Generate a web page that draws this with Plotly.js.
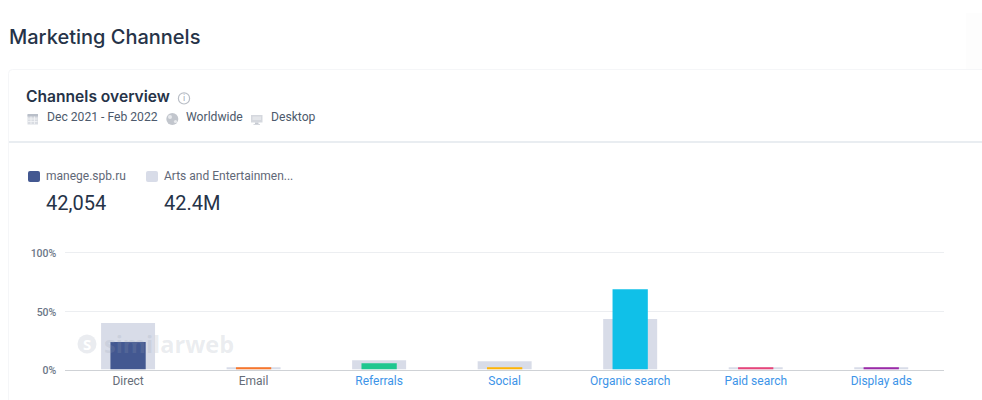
<!DOCTYPE html>
<html>
<head>
<meta charset="utf-8">
<script src="https://cdn.plot.ly/plotly-3.0.1.min.js"></script>
<style>html,body{margin:0;padding:0;background:#fff;overflow:hidden}#chart{width:982px;height:400px}</style>
</head>
<body>
<div id="chart"></div>
<script>
// Traffic share by marketing channel, site against its industry
const channels = ["Direct", "Email", "Referrals", "Social", "Organic search", "Paid search", "Display ads"];
const siteShare = [23.4, 2, 5.4, 2, 68.6, 2, 2];
const industryShare = [39.7, 2, 8, 7.1, 43.1, 2, 2];
const barColors = ["#435891", "#f9762a", "#1fc78f", "#ffb405", "#10c0e8", "#e8457a", "#9c2aa8"];
const labelColors = ["#666d78", "#666d78", "#3d94e8", "#3d94e8", "#3d94e8", "#3d94e8", "#3d94e8"];
const yTicks = [0, 50, 100];
const yTickLabels = ["0%", "50%", "100%"];

const W = 982, H = 400;
const px = x => x / W;
const py = y => 1 - y / H;

// Rectangle given in page pixels
function box(x0, y0, x1, y1, fill, line) {
  return {type: "rect", xref: "paper", yref: "paper", layer: "below",
    x0: px(x0), x1: px(x1), y0: py(y0), y1: py(y1),
    fillcolor: fill, line: line ? {color: line, width: 1} : {width: 0}};
}
// Rectangle with rounded corners, given in page pixels
function roundBox(x0, y0, x1, y1, r, fill, line) {
  const P = (x, y) => `${px(x)},${py(y)}`;
  const path = `M${P(x0 + r, y0)} L${P(x1 - r, y0)} Q${P(x1, y0)} ${P(x1, y0 + r)} L${P(x1, y1 - r)} ` +
    `Q${P(x1, y1)} ${P(x1 - r, y1)} L${P(x0 + r, y1)} Q${P(x0, y1)} ${P(x0, y1 - r)} L${P(x0, y0 + r)} Q${P(x0, y0)} ${P(x0 + r, y0)} Z`;
  return {type: "path", xref: "paper", yref: "paper", layer: "below", path: path,
    fillcolor: fill, line: line ? {color: line, width: 1} : {width: 0}};
}
function hline(x0, x1, y, color, width) {
  return {type: "line", xref: "paper", yref: "paper", layer: "below",
    x0: px(x0), x1: px(x1), y0: py(y), y1: py(y), line: {color: color, width: width}};
}
function vline(x, y0, y1, color, width) {
  return {type: "line", xref: "paper", yref: "paper", layer: "below",
    x0: px(x), x1: px(x), y0: py(y0), y1: py(y1), line: {color: color, width: width}};
}
// Circle given by centre and radius in page pixels
function disc(cx, cy, r, fill, line, layer) {
  return {type: "circle", xref: "paper", yref: "paper", layer: layer || "below",
    x0: px(cx - r), x1: px(cx + r), y0: py(cy - r), y1: py(cy + r),
    fillcolor: fill, line: line ? {color: line, width: 1.2} : {width: 0}};
}
function text(x, y, str, size, color, family, anchor, weight) {
  return {xref: "paper", yref: "paper", x: px(x), y: py(y), xanchor: anchor || "left", yanchor: "middle",
    text: str, showarrow: false, borderpad: 0,
    font: {size: size, color: color, family: family, weight: weight || 400}};
}

const HEAD = "'Inter', 'Noto Sans', sans-serif";
const BODY = "Roboto, 'Noto Sans', sans-serif";
const MARK = "rgba(150,160,178,0.2)";

const shapes = [
  box(966, 13, 982, 400, "#fdfdfd"),
  roundBox(8.5, 69.5, 1000, 420, 4, "#ffffff", "#f5f6f8"),
  hline(9, 982, 142, "#e9edf1", 2),
  // calendar icon
  box(27.5, 115, 38, 124.5, "#d9dce2"),
  box(27.5, 114, 38, 116.5, "#b9bfc9"),
  hline(28, 37.5, 119, "#f4f5f7", 0.8),
  hline(28, 37.5, 121.5, "#f4f5f7", 0.8),
  vline(31, 116.5, 124, "#f4f5f7", 0.8),
  vline(34.5, 116.5, 124, "#f4f5f7", 0.8),
  // globe icon
  disc(172.3, 119, 6, "#c2c6cd"),
  disc(170, 117, 2, "#e8eaed"),
  disc(175.5, 121.5, 1.6, "#e8eaed"),
  // monitor icon
  box(251, 115, 262.5, 122.5, "#d5d8de"),
  box(252.5, 116.5, 261, 120, "#e4e6ea"),
  box(255, 122.5, 258.5, 124, "#c5c9d0"),
  box(253.5, 124, 260, 125, "#d5d8de"),
  // legend swatches
  roundBox(28, 171, 40, 182, 2, "#435891"),
  roundBox(146, 171, 158, 182, 2, "#d8dce8"),
  // info icon
  disc(184, 98.4, 5.6, "#ffffff", "#b9bec6"),
  // watermark logo
  disc(87, 344, 9.5, MARK, null, "above")
];

const annotations = [
  text(8, 37, "Marketing Channels", 20, "#263348", HEAD, "left", 500),
  text(24.5, 97, "Channels overview", 15.6, "#263348", HEAD, "left", 600),
  text(184, 98.4, "i", 9, "#a5abb5", BODY, "center"),
  text(45.5, 117.5, "Dec 2021 - Feb 2022", 12.15, "#4d5a6c", BODY),
  text(185, 117.5, "Worldwide", 12.15, "#4d5a6c", BODY),
  text(270, 117.5, "Desktop", 12.15, "#4d5a6c", BODY),
  text(45, 176.5, "manege.spb.ru", 12, "#5f6877", BODY),
  text(162.5, 176.5, "Arts and Entertainmen...", 12, "#5f6877", BODY),
  text(44.5, 203, "42,054", 20, "#263348", BODY),
  text(162.5, 203, "42.4M", 20, "#263348", BODY),
  // watermark across the plot
  text(103, 344, "similarweb", 23.5, MARK, "'Open Sans', sans-serif", "left", 700),
  text(87, 344, "S", 15, "#ffffff", "'Open Sans', sans-serif", "center", 700)
];

const data = [
  {type: "bar", name: "Arts and Entertainment", x: channels, y: industryShare,
   width: 0.43, marker: {color: "#d8dce8", line: {width: 0}}, hoverinfo: "skip"},
  {type: "bar", name: "manege.spb.ru", x: channels, y: siteShare,
   width: 0.281, marker: {color: barColors, line: {width: 0}}, hoverinfo: "skip"}
];

const layout = {
  width: W, height: H,
  margin: {l: 0, r: 0, t: 0, b: 0},
  paper_bgcolor: "rgba(0,0,0,0)",
  plot_bgcolor: "rgba(0,0,0,0)",
  barmode: "overlay",
  showlegend: false,
  font: {family: BODY},
  xaxis: {
    domain: [px(65.3), px(944)], anchor: "y", type: "category",
    range: [-0.5, 6.5], fixedrange: true,
    tickmode: "array", tickvals: channels,
    ticktext: channels.map((c, i) => `<span style="color:${labelColors[i]}">${c}</span>`),
    tickfont: {size: 12, family: BODY, color: "#666d78"},
    ticks: "", ticklabelstandoff: 0, showgrid: false, zeroline: false,
    showline: true, linecolor: "#cfd2d6", linewidth: 1.5
  },
  yaxis: {
    // headroom above 100 keeps the top gridline inside the plot area
    domain: [py(369.5), py(250.16)], anchor: "x",
    range: [0, 102], fixedrange: true,
    tickmode: "array", tickvals: yTicks, ticktext: yTickLabels,
    tickfont: {size: 10.5, family: BODY, color: "#6b7686", weight: 500},
    ticks: "", ticklabelstandoff: 8, ticklabelshift: 1,
    gridcolor: "#eceef1", gridwidth: 1, zeroline: false, showline: false
  },
  shapes: shapes,
  annotations: annotations
};

Plotly.newPlot("chart", data, layout, {displayModeBar: false, staticPlot: true});
</script>
</body>
</html>
